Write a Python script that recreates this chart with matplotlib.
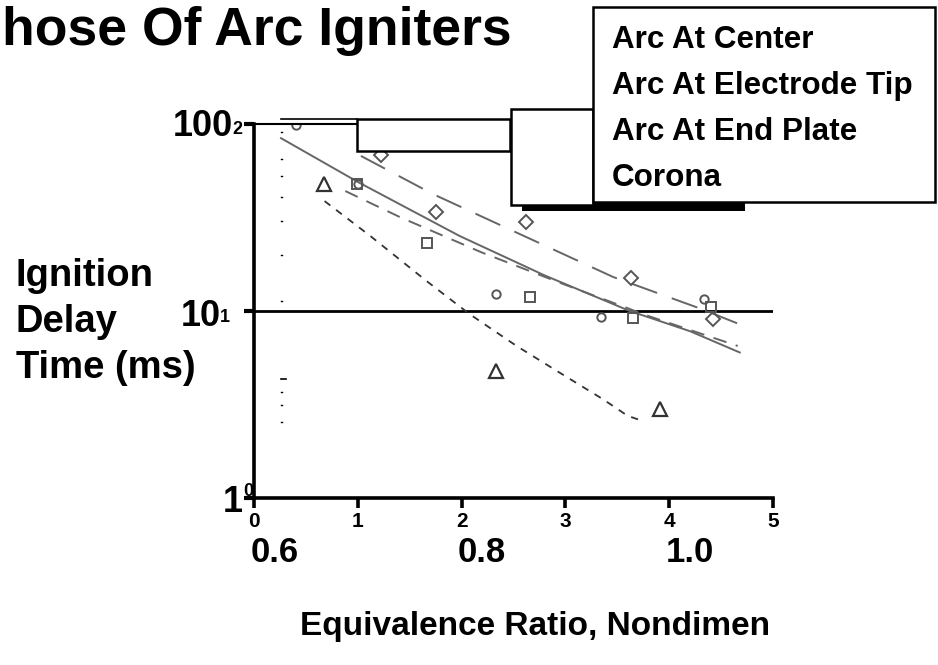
import matplotlib
matplotlib.use("Agg")
import matplotlib.pyplot as plt
from matplotlib.lines import Line2D
from matplotlib.patches import Rectangle
from matplotlib.ticker import NullLocator
from matplotlib import font_manager

plt.rcParams['font.family'] = ['Liberation Sans', 'DejaVu Sans']
_names = {f.name for f in font_manager.fontManager.ttflist}
narrow = [n for n in ['Liberation Sans Narrow', 'DejaVu Sans Condensed'] if n in _names] + ['Liberation Sans']

# ---------------- data ----------------
series_names = ["Arc At Center", "Arc At Electrode Tip", "Arc At End Plate", "Corona"]

center_x = [0.40, 1.00, 2.33, 3.34, 4.34]
center_y = [99, 48, 12.3, 9.3, 11.6]

tip_x = [1.22, 1.75, 2.62, 3.63, 4.42]
tip_y = [68, 34, 30, 15, 9.1]

plate_x = [0.99, 1.67, 2.66, 3.65, 4.40]
plate_y = [48, 23.1, 11.9, 9.2, 10.5]

corona_x = [0.67, 2.33, 3.91]
corona_y = [48, 4.8, 3.0]

# trend curves
center_fit_x = [0.26, 1.00, 1.98, 2.80, 3.62, 4.20, 4.68]
center_fit_y = [84, 49, 25.2, 15.5, 10.0, 7.8, 6.0]

tip_fit_x = [1.03, 1.72, 2.56, 3.46, 4.30, 4.70]
tip_fit_y = [67.5, 42.3, 25.8, 15.2, 10.3, 8.4]

plate_fit_x = [0.88, 1.41, 2.20, 3.00, 3.80, 4.66]
plate_fit_y = [43.8, 31.7, 20.5, 13.8, 9.4, 6.5]

corona_fit_x = [0.68, 1.12, 1.66, 2.08, 2.53, 2.95, 3.36, 3.60, 3.72]
corona_fit_y = [38.7, 25.2, 14.5, 9.6, 6.5, 4.66, 3.38, 2.75, 2.61]

x_ticks = [0, 1, 2, 3, 4, 5]
phi_labels = ["0.6", "0.8", "1.0"]

# ---------------- figure ----------------
W, H = 938, 665
fig = plt.figure(figsize=(W / 100, H / 100), dpi=100)


def fx(px):
    return px / W


def fy(py):
    return 1 - py / H


ax = fig.add_axes([fx(254), fy(498), (773 - 254) / W, (498 - 124) / H])
ax.set_xlim(0, 5)
ax.set_yscale('log')
ax.set_ylim(1, 100)
ax.patch.set_alpha(0)
for s in ['top', 'right']:
    ax.spines[s].set_visible(False)
for s in ['left', 'bottom']:
    ax.spines[s].set_linewidth(2.6)
    ax.spines[s].set_color('black')

ax.set_xticks(x_ticks)
ax.set_xticklabels([str(t) for t in x_ticks], fontsize=15, fontweight='bold',
                   fontfamily=narrow)
ax.tick_params(axis='x', direction='out', length=7, width=2.6, pad=3)
ax.set_yticks([1, 10, 100])
ax.set_yticklabels(["", "", ""])
ax.yaxis.set_minor_locator(NullLocator())
ax.tick_params(axis='y', direction='out', length=7, width=3)

ax.axhline(10, color='black', lw=2, zorder=1)

line_col = '#666666'
mk_col = '#555555'
ax.plot(center_fit_x, center_fit_y, color=line_col, lw=1.4, ls='-')
ax.plot(tip_fit_x, tip_fit_y, color=line_col, lw=1.4, ls=(0, (14, 8)))
ax.plot(plate_fit_x, plate_fit_y, color=line_col, lw=1.4, ls=(0, (7, 5)))
ax.plot(corona_fit_x, corona_fit_y, color='#333333', lw=1.3, ls=(0, (4, 4)))

ax.plot(center_x, center_y, ls='none', marker='o', ms=6, mfc='none', mec=mk_col, mew=1.4)
ax.plot(tip_x, tip_y, ls='none', marker='D', ms=7, mfc='none', mec=mk_col, mew=1.4)
ax.plot(plate_x, plate_y, ls='none', marker='s', ms=7.5, mfc='none', mec=mk_col, mew=1.4)
ax.plot(corona_x, corona_y, ls='none', marker='^', ms=10, mfc='none', mec='#333333', mew=1.6)

# dotted column (stray minor ticks)
for py in [132, 159, 176, 197, 221, 255, 301, 392, 405, 422]:
    fig.add_artist(Line2D([fx(281), fx(282)], [fy(py), fy(py)], color='black', lw=1))
fig.add_artist(Line2D([fx(281), fx(286)], [fy(379), fy(379)], color='black', lw=1.2))

# top lines to box
fig.add_artist(Line2D([fx(254), fx(357)], [fy(124), fy(124)], color='black', lw=1.5))
fig.add_artist(Line2D([fx(281), fx(357)], [fy(119), fy(119)], color='black', lw=1.2))

# boxes
def box(x0, y0, x1, y1, lw=1.8, fc='white', ec='black', z=5):
    fig.add_artist(Rectangle((fx(x0), fy(y1)), fx(x1) - fx(x0), fy(y0) - fy(y1),
                             transform=fig.transFigure, fc=fc, ec=ec, lw=lw, zorder=z))

box(522, 202, 745, 211, lw=0, fc='black', ec='black', z=4)
box(357, 119, 510, 151)
box(511, 109, 593, 205)
box(593, 7, 935, 202)

for i, name in enumerate(series_names):
    fig.text(fx(612), fy(40 + i * 46), name, fontsize=22.6, fontweight='bold',
             va='center', ha='left', zorder=6)

# title
fig.text(fx(2), fy(31), "hose Of Arc Igniters", fontsize=38.5, fontweight='bold',
         ha='left', va='center')

# y axis label
for i, t in enumerate(["Ignition", "Delay", "Time (ms)"]):
    fig.text(fx(16), fy(276 + i * 46), t, fontsize=27.5, fontweight='bold',
             ha='left', va='center')

# y tick labels (garbled exponents)
fig.text(fx(233), fy(126), "100", fontsize=26, fontweight='bold', ha='right', va='center')
fig.text(fx(232), fy(130), "2", fontsize=13, fontweight='bold', ha='left', va='center')
fig.text(fx(221), fy(316), "10", fontsize=26, fontweight='bold', ha='right', va='center')
fig.text(fx(220), fy(318), "1", fontsize=13, fontweight='bold', ha='left', va='center')
fig.text(fx(243), fy(503), "1", fontsize=26, fontweight='bold', ha='right', va='center')
fig.text(fx(243), fy(492), "0", fontsize=13, fontweight='bold', ha='left', va='center')

# equivalence ratio labels
for lab, px in zip(phi_labels, [275, 482, 690]):
    fig.text(fx(px), fy(552), lab, fontsize=25, fontweight='bold', ha='center', va='center')

fig.text(fx(535), fy(627), "Equivalence Ratio, Nondimen", fontsize=24, fontweight='bold',
         ha='center', va='center')

fig.savefig("out.png", dpi=100)
